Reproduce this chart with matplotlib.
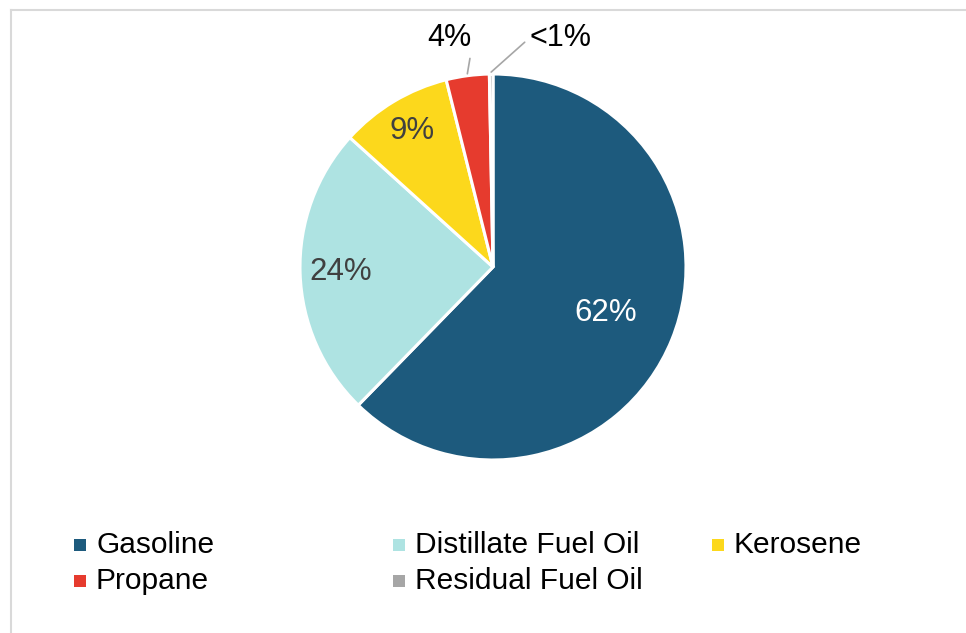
import matplotlib
matplotlib.use("Agg")
import matplotlib.pyplot as plt
from matplotlib.lines import Line2D
from matplotlib.patches import Rectangle
import numpy as np

plt.rcParams['font.family'] = ['Liberation Sans', 'DejaVu Sans']

# data
fuels = ['Gasoline', 'Distillate Fuel Oil', 'Kerosene', 'Propane', 'Residual Fuel Oil']
shares = [62.3, 24.4, 9.4, 3.6, 0.3]
share_labels = ['62%', '24%', '9%', '4%', '<1%']
colors = ['#1D5A7D', '#AEE3E2', '#FCD81C', '#E63B2E', '#A6A6A6']

W, H = 966, 633
fig = plt.figure(figsize=(W / 100, H / 100), dpi=100)

# pie centre and radius in pixels
cx, cy, r = 493, 267, 193
ax = fig.add_axes([(cx - r) / W, (H - cy - r) / H, 2 * r / W, 2 * r / H])
wedges, _ = ax.pie(shares, colors=colors, startangle=90, counterclock=False,
                   radius=1, wedgeprops=dict(edgecolor='white', linewidth=2.2))
ax.set_xlim(-1, 1)
ax.set_ylim(-1, 1)
ax.set_aspect('equal')
ax.axis('off')

# inside labels
inside = {0: (0.63, 'white'), 1: (0.79, '#404040'), 2: (0.82, '#404040')}
for i, (dist, col) in inside.items():
    w = wedges[i]
    ang = np.deg2rad((w.theta1 + w.theta2) / 2)
    ax.text(dist * np.cos(ang), dist * np.sin(ang), share_labels[i],
            ha='center', va='center', fontsize=22.5, color=col)

# outside labels with leader lines
outside = {3: ((-0.228, 1.187), (1.0, 0.05)), 4: ((0.35, 1.187), (0.0, 0.5))}
for i, (pos, rel) in outside.items():
    w = wedges[i]
    ang = np.deg2rad((w.theta1 + w.theta2) / 2)
    ax.annotate(share_labels[i], xy=(1.01 * np.cos(ang), 1.01 * np.sin(ang)),
                xytext=pos, ha='center', va='center', fontsize=22, color='black',
                annotation_clip=False,
                arrowprops=dict(arrowstyle='-', color='#A6A6A6', lw=1.2,
                                shrinkA=2, shrinkB=0, relpos=rel))

# legend, row-major in three columns
col_x = [74, 393, 712]
row_y = [545, 581]
for k, (name, c) in enumerate(zip(fuels, colors)):
    row, col = divmod(k, 3)
    x, y = col_x[col], row_y[row]
    fig.add_artist(Rectangle((x / W, (H - y - 6) / H), 12 / W, 12 / H,
                             transform=fig.transFigure, color=c, lw=0))
    fig.text((x + 22) / W, (H - y) / H, name, ha='left', va='center',
             fontsize=21.5, color='black')

# chart frame
fig.add_artist(Line2D([10.5 / W, 1], [(H - 9.5) / H] * 2, transform=fig.transFigure,
                      color='#D9D9D9', lw=1.5))
fig.add_artist(Line2D([10.5 / W] * 2, [0, (H - 9.5) / H], transform=fig.transFigure,
                      color='#D9D9D9', lw=1.5))

fig.savefig('out.png', dpi=100)
